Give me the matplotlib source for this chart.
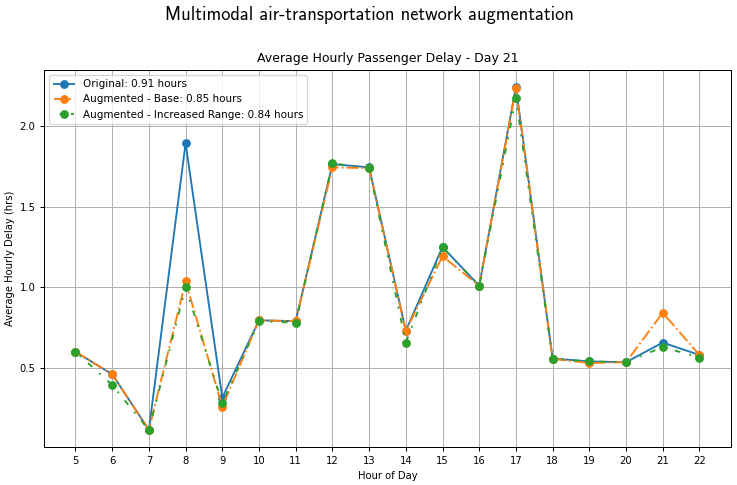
import os
import matplotlib
matplotlib.use("Agg")
import matplotlib.pyplot as plt
from matplotlib.font_manager import FontProperties

hours = list(range(5, 23))
original = [0.60, 0.46, 0.115, 1.895, 0.315, 0.795, 0.79, 1.765, 1.745, 0.73, 1.25, 1.01,
            2.244, 0.558, 0.54, 0.535, 0.657, 0.58]
aug_base = [0.60, 0.46, 0.115, 1.037, 0.26, 0.795, 0.79, 1.745, 1.74, 0.73, 1.193, 1.01,
            2.236, 0.556, 0.53, 0.535, 0.842, 0.58]
aug_range = [0.60, 0.394, 0.114, 1.0, 0.28, 0.79, 0.78, 1.77, 1.74, 0.657, 1.249, 1.01,
             2.176, 0.556, 0.54, 0.535, 0.629, 0.564]
labels = ["Original: 0.91 hours", "Augmented - Base: 0.85 hours",
          "Augmented - Increased Range: 0.84 hours"]

DPI = 90
fig = plt.figure(figsize=(738 / DPI, 485 / DPI), dpi=DPI)
ax = fig.add_axes([0.06, 0.078, 0.93, 0.778])
ax.plot(hours, original, marker='o', linestyle='-', color='#1f77b4', label=labels[0])
ax.plot(hours, aug_base, marker='o', linestyle='-.', color='#ff7f0e', label=labels[1])
ax.plot(hours, aug_range, marker='o', linestyle=(5, (3, 5, 1, 5)), color='#2ca02c', label=labels[2])

ax.set_xticks(hours)
ax.tick_params(labelsize=8)
ax.grid(True)
ax.set_xlabel("Hour of Day", fontsize=8)
ax.set_ylabel("Average Hourly Delay (hrs)", fontsize=8)
ax.set_title("Average Hourly Passenger Delay - Day 21", fontsize=10)
ax.legend(loc='upper left', fontsize=8.3)

cmss = FontProperties(fname=os.path.join(matplotlib.get_data_path(), 'fonts', 'ttf', 'cmss10.ttf'), size=14.7)
fig.suptitle("Multimodal air-transportation network augmentation", fontproperties=cmss, y=0.988)

fig.savefig("out.png", dpi=DPI)
